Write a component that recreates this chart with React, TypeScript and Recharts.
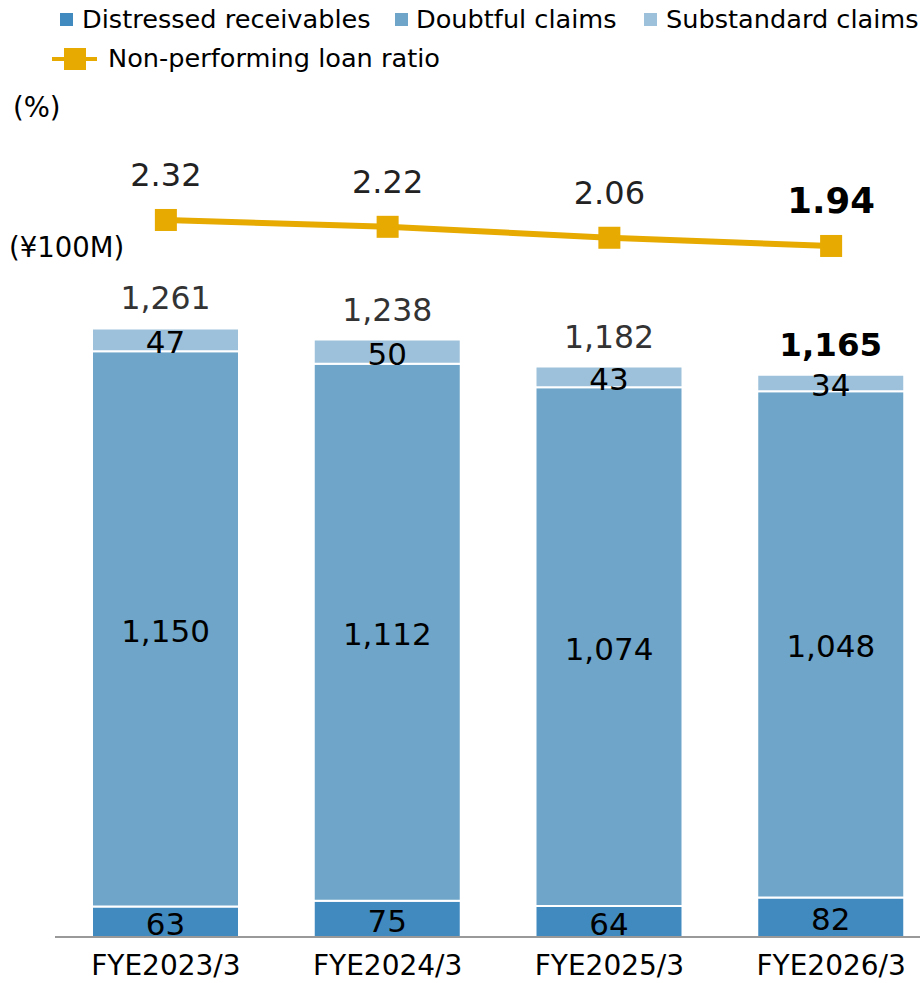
import React from 'react';
import {
  ComposedChart,
  Bar,
  Line,
  XAxis,
  YAxis,
  LabelList,
} from 'recharts';

const categories = ['FYE2023/3', 'FYE2024/3', 'FYE2025/3', 'FYE2026/3'];
const distressed = [63, 75, 64, 82];
const doubtful = [1150, 1112, 1074, 1048];
const substandard = [47, 50, 43, 34];
const totals = [1261, 1238, 1182, 1165];
const nplRatio = [2.32, 2.22, 2.06, 1.94];

const data = categories.map((name, i) => ({
  name,
  distressed: distressed[i],
  doubtful: doubtful[i],
  substandard: substandard[i],
  total: totals[i],
  ratio: nplRatio[i],
}));

const FONT = '"DejaVu Sans", Verdana, sans-serif';
const C_DIST = '#418AC0';
const C_DOUBT = '#6EA5C9';
const C_SUB = '#9EC1DB';
const C_LINE = '#E6AA00';
const LAST = categories.length - 1;

const fmt = (v: number) => v.toLocaleString('en-US');

const CenterLabel = (props: any) => {
  const { x, y, width, height, value } = props;
  return (
    <text
      x={x + width / 2}
      y={y + height / 2 + 2}
      textAnchor="middle"
      dominantBaseline="central"
      fontSize={31}
      fontFamily={FONT}
      fill="#000"
    >
      {fmt(value)}
    </text>
  );
};

const TotalLabel = (props: any) => {
  const { x, y, width, index } = props;
  const bold = index === LAST;
  return (
    <text
      x={x + width / 2}
      y={y - 30}
      textAnchor="middle"
      dominantBaseline="central"
      fontSize={bold ? 32.5 : 31.5}
      fontWeight={bold ? 'bold' : 'normal'}
      fontFamily={FONT}
      fill={bold ? '#000' : '#333'}
    >
      {fmt(totals[index])}
    </text>
  );
};

const RatioLabel = (props: any) => {
  const { x, y, index } = props;
  const bold = index === LAST;
  return (
    <text
      x={x}
      y={y - 45}
      textAnchor="middle"
      dominantBaseline="central"
      fontSize={bold ? 35.5 : 32}
      fontWeight={bold ? 'bold' : 'normal'}
      fontFamily={FONT}
      fill={bold ? '#000' : '#222'}
    >
      {nplRatio[index].toFixed(2)}
    </text>
  );
};

const SquareDot = (props: any) => {
  const { cx, cy, index } = props;
  return <rect key={`dot-${index}`} x={cx - 11} y={cy - 11} width={22} height={22} fill={C_LINE} />;
};

const legendText: React.CSSProperties = {
  position: 'absolute',
  fontFamily: FONT,
  fontSize: 25.6,
  color: '#000',
  lineHeight: '26px',
  whiteSpace: 'nowrap',
};

const unitText: React.CSSProperties = { ...legendText, fontSize: 27.5, lineHeight: '28px' };

const Swatch = ({ left, color }: { left: number; color: string }) => (
  <div style={{ position: 'absolute', left, top: 13, width: 13, height: 13, background: color }} />
);

export default function App() {
  return (
    <div style={{ position: 'absolute', left: 0, top: 0, width: 920, height: 983, overflow: 'hidden', background: '#fff' }}>
      <Swatch left={60} color={C_DIST} />
      <div style={{ ...legendText, left: 82, top: 6 }}>Distressed receivables</div>
      <Swatch left={395} color={C_DOUBT} />
      <div style={{ ...legendText, left: 416, top: 6 }}>Doubtful claims</div>
      <Swatch left={644} color={C_SUB} />
      <div style={{ ...legendText, left: 666, top: 6 }}>Substandard claims</div>
      <div style={{ position: 'absolute', left: 52, top: 57, width: 45, height: 4, background: C_LINE }} />
      <div style={{ position: 'absolute', left: 64, top: 48, width: 22, height: 22, background: C_LINE }} />
      <div style={{ ...legendText, left: 108, top: 45 }}>Non-performing loan ratio</div>
      <div style={{ ...unitText, left: 13, top: 93 }}>(%)</div>
      <div style={{ ...unitText, left: 9, top: 233 }}>(¥100M)</div>

      <div style={{ position: 'absolute', left: 0, top: 0 }}>
        <ComposedChart
          width={960}
          height={983}
          data={data}
          margin={{ top: 100, right: 18, left: 55, bottom: 6 }}
        >
          <XAxis
            dataKey="name"
            height={40}
            axisLine={{ stroke: '#999', strokeWidth: 2 }}
            tickLine={false}
            tickMargin={12}
            tick={{ fontSize: 28, fontFamily: FONT, fill: '#000' }}
          />
          <YAxis yAxisId="amt" hide domain={[0, 1733]} allowDataOverflow />
          <YAxis yAxisId="pct" hide orientation="right" domain={[-8.163, 4.074]} allowDataOverflow />
          <Bar yAxisId="amt" dataKey="distressed" stackId="a" fill={C_DIST} stroke="#fff" strokeWidth={2} barSize={147} isAnimationActive={false}>
            <LabelList dataKey="distressed" content={CenterLabel} />
          </Bar>
          <Bar yAxisId="amt" dataKey="doubtful" stackId="a" fill={C_DOUBT} stroke="#fff" strokeWidth={2} barSize={147} isAnimationActive={false}>
            <LabelList dataKey="doubtful" content={CenterLabel} />
          </Bar>
          <Bar yAxisId="amt" dataKey="substandard" stackId="a" fill={C_SUB} stroke="#fff" strokeWidth={2} barSize={147} isAnimationActive={false}>
            <LabelList dataKey="substandard" content={CenterLabel} />
            <LabelList dataKey="total" content={TotalLabel} />
          </Bar>
          <Line
            yAxisId="pct"
            dataKey="ratio"
            stroke={C_LINE}
            strokeWidth={6}
            dot={SquareDot}
            activeDot={false}
            isAnimationActive={false}
          >
            <LabelList dataKey="ratio" content={RatioLabel} />
          </Line>
        </ComposedChart>
      </div>
    </div>
  );
}
